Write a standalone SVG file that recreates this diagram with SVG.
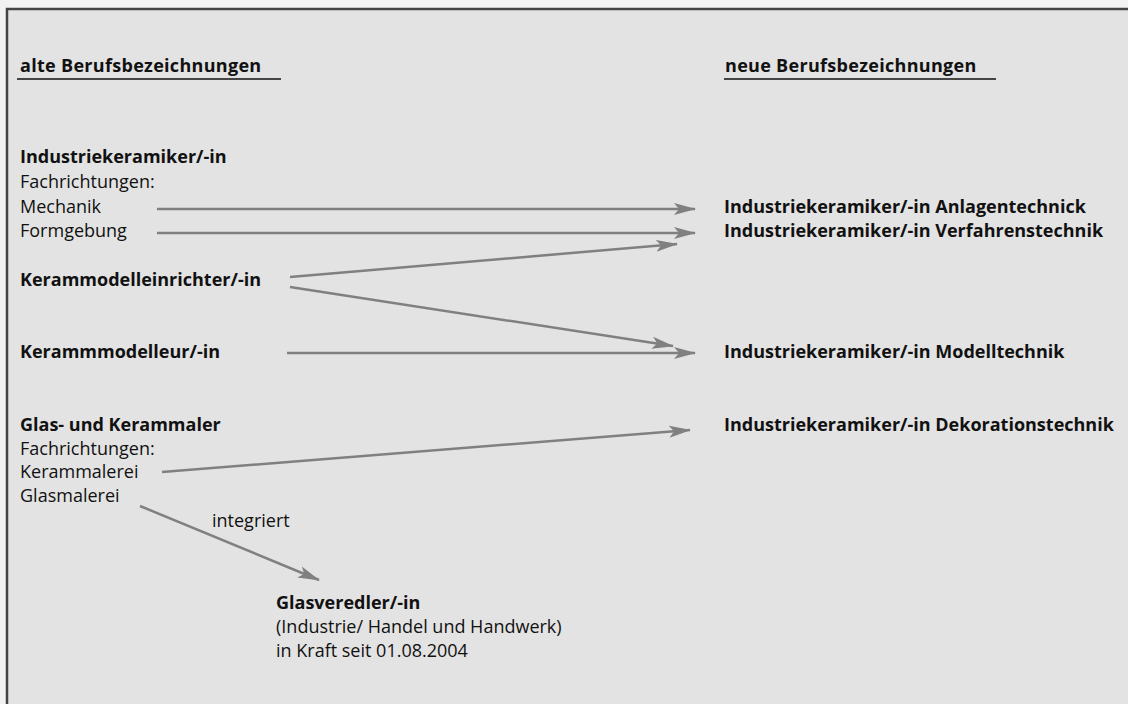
<svg xmlns="http://www.w3.org/2000/svg" width="1128" height="704" viewBox="0 0 1128 704">
<defs>
<style>
text{font-family:"Open Sans","Noto Sans","Liberation Sans",sans-serif;font-size:18px;fill:#111}
.b{font-weight:bold}
.c{stroke:#808080;stroke-width:2.5;fill:none;marker-end:url(#ah)}
.u{stroke:#111;stroke-width:1.5}
</style>
<marker id="ah" markerUnits="userSpaceOnUse" markerWidth="24" markerHeight="14" refX="21" refY="6" orient="auto" viewBox="0 0 24 12">
<path d="M0,0 L22,6 L0,12 L5,6 z" fill="#808080"/>
</marker>
</defs>
<rect x="0" y="0" width="1128" height="704" fill="#f2f2f2"/>
<g id="frame">
<rect x="7" y="9" width="1121" height="695" fill="#e3e3e3"/>
<path d="M7,704 V9 H1128" fill="none" stroke="#444" stroke-width="2.5"/>
</g>
<g id="header-old"><text class="b" x="20" y="72" letter-spacing="0.3">alte Berufsbezeichnungen</text><line class="u" x1="17" y1="79" x2="281" y2="79"/></g>
<g id="header-new"><text class="b" x="725" y="72" letter-spacing="0.3">neue Berufsbezeichnungen</text><line class="u" x1="724" y1="79" x2="996" y2="79"/></g>
<g id="old-industriekeramiker"><text class="b" x="20" y="163">Industriekeramiker/-in</text><text x="20" y="188">Fachrichtungen:</text><text x="20" y="213">Mechanik</text><text x="20" y="237">Formgebung</text></g>
<g id="old-kerammodelleinrichter"><text class="b" x="20" y="286">Kerammodelleinrichter/-in</text></g>
<g id="old-kerammmodelleur"><text class="b" x="20" y="358">Kerammmodelleur/-in</text></g>
<g id="old-glas-kerammaler"><text class="b" x="20" y="431">Glas- und Kerammaler</text><text x="20" y="455">Fachrichtungen:</text><text x="20" y="478">Kerammalerei</text><text x="20" y="502">Glasmalerei</text></g>
<g id="new-anlagentechnik"><text class="b" x="724" y="213">Industriekeramiker/-in Anlagentechnick</text></g>
<g id="new-verfahrenstechnik"><text class="b" x="724" y="237">Industriekeramiker/-in Verfahrenstechnik</text></g>
<g id="new-modelltechnik"><text class="b" x="724" y="358">Industriekeramiker/-in Modelltechnik</text></g>
<g id="new-dekorationstechnik"><text class="b" x="724" y="431">Industriekeramiker/-in Dekorationstechnik</text></g>
<g id="glasveredler"><text class="b" x="276" y="609">Glasveredler/-in</text><text x="276" y="633">(Industrie/ Handel und Handwerk)</text><text x="276" y="657">in Kraft seit 01.08.2004</text></g>
<g id="connectors">
<line class="c" x1="157" y1="209" x2="695" y2="209"/>
<line class="c" x1="157" y1="233" x2="695" y2="233"/>
<line class="c" x1="290" y1="277" x2="677" y2="244"/>
<line class="c" x1="290" y1="287" x2="673" y2="346"/>
<line class="c" x1="287" y1="353" x2="695" y2="353"/>
<line class="c" x1="162" y1="472" x2="690" y2="430"/>
<line class="c" x1="140" y1="506" x2="319" y2="580"/>
<text x="212" y="527">integriert</text>
</g>
</svg>
